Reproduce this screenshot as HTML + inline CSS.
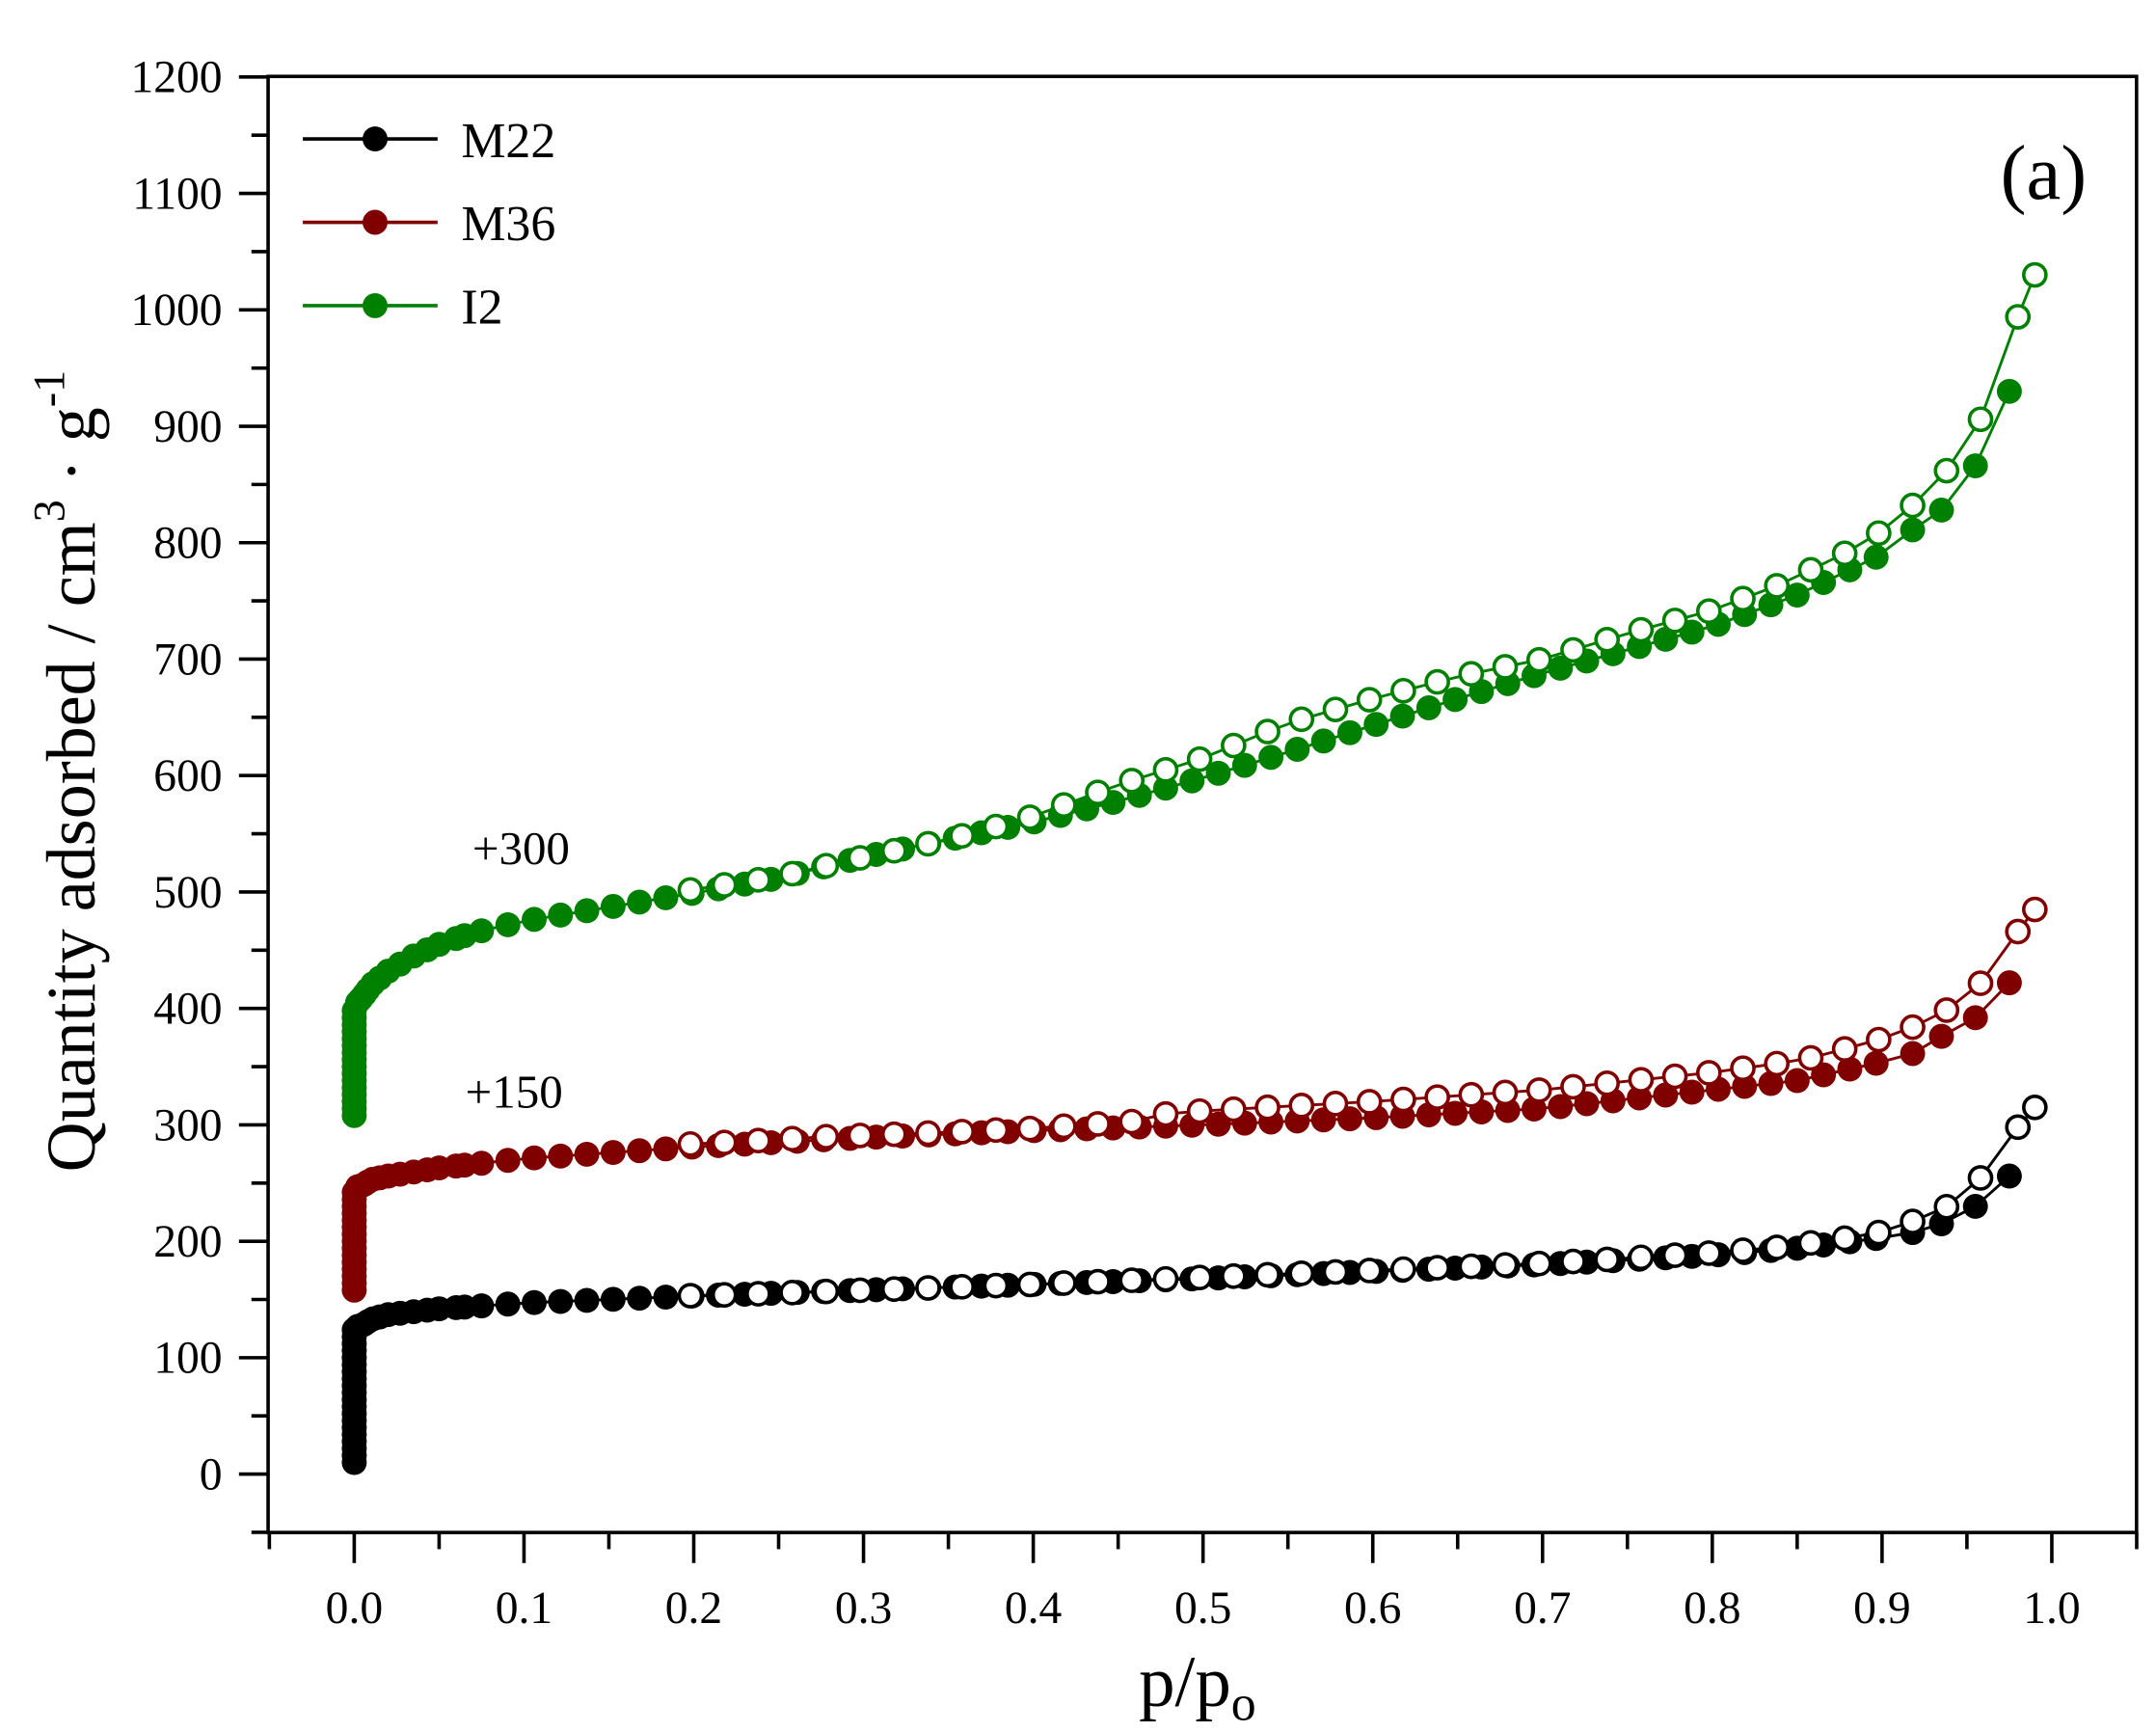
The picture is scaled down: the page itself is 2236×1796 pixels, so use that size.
<!DOCTYPE html>
<html><head><meta charset="utf-8"><style>
html,body{margin:0;padding:0;background:#fff;}
svg{display:block;font-family:"Liberation Serif",serif;}
</style></head><body>
<svg id="s" width="2236" height="1796" viewBox="0 0 1552 1246.6" xmlns="http://www.w3.org/2000/svg">
<rect width="1552" height="1247" fill="#fff"/>
<g id="axes" stroke="#000" stroke-width="2.5" fill="none">
<rect x="193" y="55" width="1345" height="1048"/>
</g>
<g id="ticks" stroke="#000" stroke-width="2.5"></g>
<g id="labels" font-size="33" fill="#000"></g>
<g id="data"></g>
<text x="862" y="1228" font-size="52" text-anchor="middle">p/p<tspan font-size="36" dy="10">o</tspan></text>
<text transform="translate(68,555) rotate(-90)" font-size="50" text-anchor="middle">Quantity adsorbed / cm<tspan font-size="32" dy="-22">3</tspan><tspan dy="22"> · g</tspan><tspan font-size="32" dy="-22">-1</tspan></text>
<text x="1440" y="143" font-size="56">(a)</text>
<text x="340" y="622" font-size="34">+300</text>
<text x="335" y="797" font-size="34">+150</text>
<g font-size="36">
<line x1="218" y1="100" x2="315" y2="100" stroke="#000" stroke-width="2.5"/><circle cx="270" cy="100" r="9" fill="#000"/><text x="332" y="113">M22</text>
<line x1="218" y1="160" x2="315" y2="160" stroke="#800000" stroke-width="2.5"/><circle cx="270" cy="160" r="9" fill="#800000"/><text x="332" y="173">M36</text>
<line x1="218" y1="220" x2="315" y2="220" stroke="#008000" stroke-width="2.5"/><circle cx="270" cy="220" r="9" fill="#008000"/><text x="332" y="233">I2</text>
</g>
</svg>
<script>
var NS="http://www.w3.org/2000/svg";
function X(p){return 255+p*1222;}
function Y(v){return 1061-v*0.838;}
function el(t,a,parent){var e=document.createElementNS(NS,t);for(var k in a)e.setAttribute(k,a[k]);parent.appendChild(e);return e;}
var tk=document.getElementById('ticks'),lb=document.getElementById('labels'),dg=document.getElementById('data');
for(var v=-50;v<=1200;v+=50){var y=Y(v);var maj=(v%100===0);el('line',{x1:193,y1:y,x2:193-(maj?21:12),y2:y},tk);
 if(maj){var t=el('text',{x:160,y:y+11,'text-anchor':'end'},lb);t.textContent=v;}}
for(var i=-1;i<=21;i++){var p=i*0.05;var x=X(p);var maj=(i%2===0);el('line',{x1:x,y1:1103,x2:x,y2:1103+(maj?22:12)},tk);
 if(maj&&i>=0){var t=el('text',{x:x,y:1168,'text-anchor':'middle'},lb);t.textContent=(p).toFixed(1);}}
function interp(a,p){for(var i=0;i<a.length-1;i++){var A=a[i],B=a[i+1];if((p>=A[0]&&p<=B[0])||(p<=A[0]&&p>=B[0])){var f=(p-A[0])/(B[0]-A[0]);return A[1]+f*(B[1]-A[1]);}}return a[a.length-1][1];}
function series(col,v0,v1,ads,des){
 var ap=[];for(var v=v0;v<v1;v+=6)ap.push([0.0,v]);
 var ps=[0.002,0.004,0.006,0.008,0.011,0.015,0.02,0.027,0.035,0.043,0.05,0.06,0.065];
 for(var p=0.075;p<0.905;p+=0.0155)ps.push(p);ps=ps.concat([0.918,0.935,0.955,0.975]);
 ps.forEach(function(p){ap.push([p,interp(ads,p)]);});
 var dp=[0.99,0.98,0.958,0.938,0.918,0.898,0.878,0.858,0.838,0.818,0.798];
 for(var p=0.778;p>=0.195;p-=0.02)dp.push(p);
 var d=[];dp.forEach(function(p){d.push([p,interp(des,p)]);});
 var s1=ap.map(function(q){return X(q[0])+','+Y(q[1]);}).join(' ');
 var s2=d.map(function(q){return X(q[0])+','+Y(q[1]);}).join(' ');
 el('polyline',{points:s1,fill:'none',stroke:col,'stroke-width':2},dg);
 el('polyline',{points:s2,fill:'none',stroke:col,'stroke-width':2},dg);
 ap.forEach(function(q){el('circle',{cx:X(q[0]),cy:Y(q[1]),r:9,fill:col},dg);});
 d.forEach(function(q){el('circle',{cx:X(q[0]),cy:Y(q[1]),r:8,fill:'#fff',stroke:col,'stroke-width':2.5},dg);});
}
series('#000',10,126,
[[0,126],[0.005,128],[0.01,133],[0.02,137],[0.05,142],[0.1,147],[0.2,153],[0.3,158],[0.4,163],[0.5,168],[0.6,174],[0.7,180],[0.8,188],[0.85,194],[0.9,203],[0.92,208],[0.935,215],[0.955,230],[0.975,256]],
[[0.99,315],[0.98,298],[0.96,257],[0.94,231],[0.92,218],[0.9,208],[0.88,203],[0.86,199],[0.84,195],[0.8,190],[0.7,181],[0.6,175],[0.5,169],[0.4,163],[0.34,160],[0.28,157],[0.22,154],[0.19,153]]);
series('#800000',158,246,
[[0,246],[0.005,248],[0.01,253],[0.02,256],[0.05,263],[0.1,271],[0.2,281],[0.3,289],[0.4,295],[0.5,300],[0.6,306],[0.7,314],[0.8,330],[0.85,338],[0.9,354],[0.92,362],[0.935,376],[0.955,392],[0.975,422]],
[[0.99,485],[0.98,466],[0.96,424],[0.94,400],[0.92,385],[0.9,374],[0.88,366],[0.86,358],[0.84,353],[0.8,345],[0.7,330],[0.6,320],[0.5,312],[0.48,310],[0.46,303],[0.4,297],[0.34,293],[0.28,290],[0.22,285],[0.19,283]]);
series('#008000',308,402,
[[0,402],[0.005,410],[0.01,420],[0.02,432],[0.035,445],[0.05,455],[0.07,465],[0.1,475],[0.15,487],[0.2,499],[0.25,512],[0.3,530],[0.35,545],[0.4,560],[0.45,578],[0.5,598],[0.55,620],[0.6,643],[0.65,666],[0.7,688],[0.75,708],[0.8,728],[0.85,755],[0.9,790],[0.915,808],[0.935,828],[0.955,866],[0.975,930]],
[[0.99,1030],[0.98,994],[0.957,902],[0.93,845],[0.918,832],[0.9,810],[0.877,790],[0.857,776],[0.838,763],[0.8,742],[0.75,722],[0.7,700],[0.65,685],[0.6,666],[0.55,645],[0.5,615],[0.45,592],[0.4,565],[0.35,545],[0.3,530],[0.25,513],[0.19,500]]);
</script>
</body></html>
